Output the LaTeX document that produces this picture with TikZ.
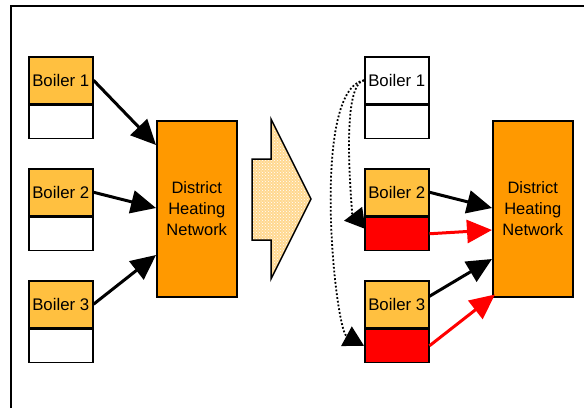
\documentclass[tikz,border=0pt]{standalone}
\usepackage{fontspec}
\setmainfont{Liberation Sans}
\usetikzlibrary{arrows.meta,positioning,patterns}
\definecolor{boilerfill}{HTML}{FFC040}
\definecolor{networkfill}{HTML}{FF9900}
\definecolor{shiftfill}{HTML}{FFD890}
\definecolor{loadred}{HTML}{FF0000}
\begin{document}
\begin{tikzpicture}[x=1pt,y=-1pt,
  boilertop/.style={draw, line width=1.5pt, fill=boilerfill, minimum width=64pt, minimum height=47pt, inner sep=0pt, anchor=north west, font=\fontsize{16.8}{20}\selectfont},
  boilerlow/.style={draw, line width=1.5pt, fill=white, minimum width=64pt, minimum height=33pt, inner sep=0pt, below=0pt of #1},
  network/.style={draw, line width=1.5pt, fill=networkfill, minimum width=80pt, minimum height=176pt, anchor=north west, align=center, font=\fontsize{16.5}{20.7}\selectfont},
  feed/.style={line width=3pt, -{Triangle[length=25pt,width=23pt]}},
  extra/.style={feed, loadred},
  backup/.style={line width=1.8pt, dotted, -{Triangle[length=20pt,width=22pt]}}]
\useasboundingbox (0,0) rectangle (584,408);
\draw[line width=1.5pt] (11,408) -- (11,6) -- (584,6);
% before
\node[boilertop] (b1) at (28,56) {Boiler 1};
\node[boilerlow=b1] (b1l) {};
\node[boilertop] (b2) at (28,168) {Boiler 2};
\node[boilerlow=b2] (b2l) {};
\node[boilertop] (b3) at (28,280) {Boiler 3};
\node[boilerlow=b3] (b3l) {};
\node[network] (dhn) at (156,120) {District\\Heating\\Network};
\draw[feed] (b1.east) -- ([yshift=-25pt]dhn.north west);
\draw[feed] (b2.east) -- ([yshift=-88pt]dhn.north west);
\draw[feed] (b3.east) -- ([yshift=-135pt]dhn.north west);
% shift arrow
\fill[shiftfill] (252,159) -- (271,159) -- (271,119) -- (311,199) -- (271,279) -- (271,240) -- (252,240) -- cycle;
\draw[line width=1.5pt, pattern=crosshatch dots, pattern color=white] (252,159) -- (271,159) -- (271,119) -- (311,199) -- (271,279) -- (271,240) -- (252,240) -- cycle;
% after
\node[boilertop, fill=white] (r1) at (364,56) {Boiler 1};
\node[boilerlow=r1] (r1l) {};
\node[boilertop] (r2) at (364,168) {Boiler 2};
\node[boilerlow=r2, fill=loadred] (r2l) {};
\node[boilertop] (r3) at (364,280) {Boiler 3};
\node[boilerlow=r3, fill=loadred] (r3l) {};
\node[network] (rdhn) at (492,120) {District\\Heating\\Network};
\draw[feed] (r2.east) -- ([yshift=-88pt]rdhn.north west);
\draw[extra] (r2l.east) -- ([yshift=-110pt]rdhn.north west);
\draw[feed] ([yshift=8pt]r3.east) -- ([yshift=-139pt]rdhn.north west);
\draw[extra] (r3l.east) -- ([xshift=3pt,yshift=3pt]rdhn.south west);
\draw[backup] (r1.west) .. controls (310,90) and (335,330) .. (r3l.west);
\draw[backup] (r1.west) .. controls (340,85) and (352,205) .. (352,212) .. controls (352,219) and (356,219) .. ([xshift=-20pt,yshift=13pt]r2l.west);
\end{tikzpicture}
\end{document}
